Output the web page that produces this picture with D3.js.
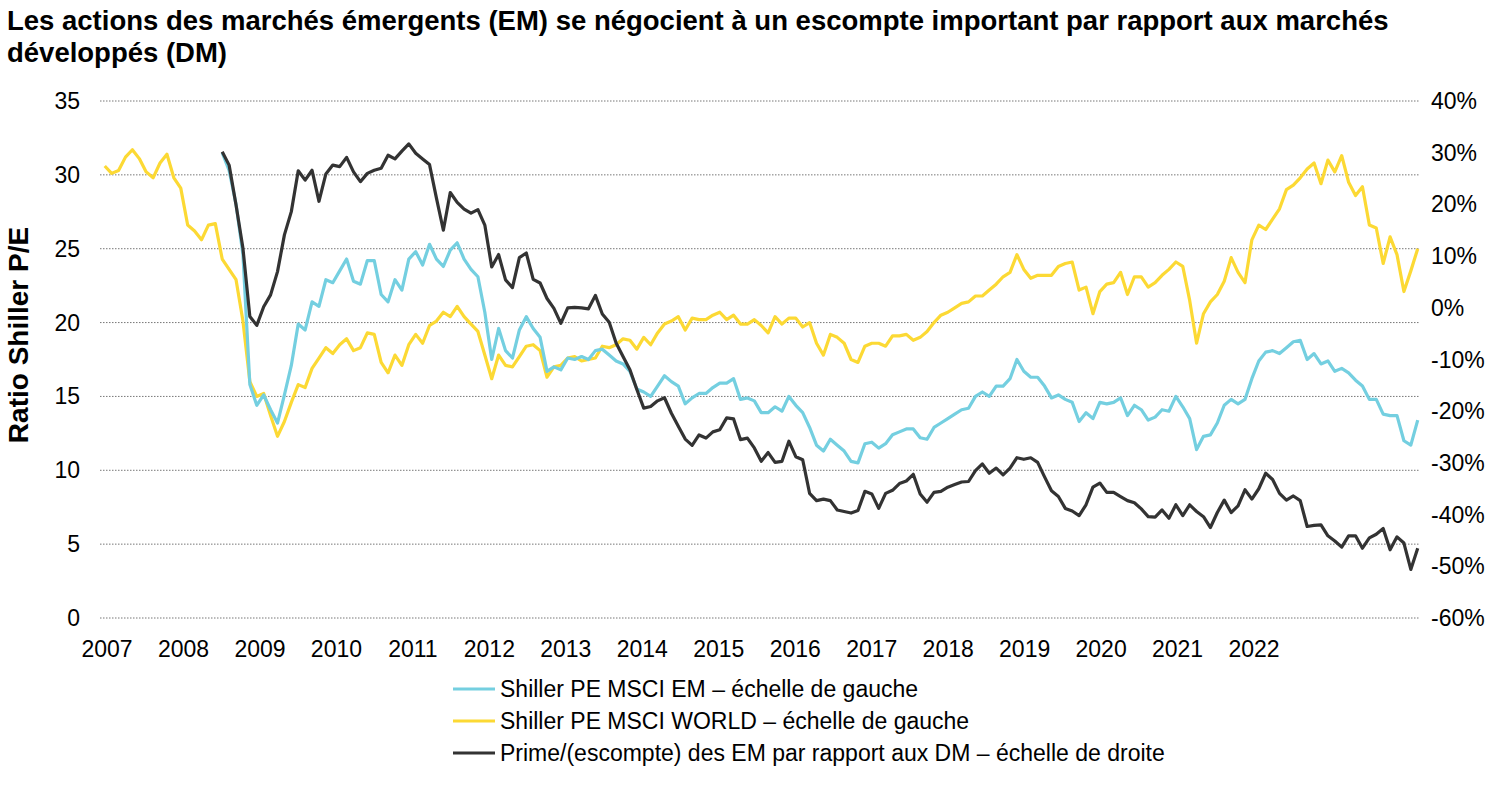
<!DOCTYPE html>
<html><head><meta charset="utf-8">
<script src="https://cdn.jsdelivr.net/npm/d3@7"></script>
<style>body{margin:0;background:#fff;font-family:"Liberation Sans",Arial,sans-serif}</style>
</head><body>
<svg id="chart" width="1500" height="798"></svg>
<script>
// monthly-ish points, shared index; t = t0 + i*step
const t0 = 2006.97, step = 0.09037;
const yearTicks = d3.range(2007, 2023);
const leftTicks = [0,5,10,15,20,25,30,35];
const rightTicks = [-60,-50,-40,-30,-20,-10,0,10,20,30,40];

const worldStart = 0;
const world = [30.6,30.1,30.3,31.2,31.7,31.1,30.2,29.8,30.8,31.4,29.8,29.1,
26.6,26.2,25.6,26.6,26.7,24.3,23.6,22.9,20.1,16.0,15.0,15.2,13.7,12.3,13.3,14.6,15.8,15.6,16.9,17.6,18.3,17.9,18.5,18.9,18.1,18.3,19.3,19.2,17.3,16.6,17.8,17.1,18.5,19.2,18.6,19.8,20.1,20.7,20.4,21.1,20.4,19.9,19.4,17.8,16.2,17.8,17.1,17.0,17.7,18.4,18.5,18.1,16.3,17.0,17.1,17.6,
17.7,17.4,17.5,17.6,18.4,18.3,18.5,18.9,18.8,18.2,19.0,18.5,19.3,19.9,20.1,20.4,19.5,20.3,20.2,20.2,20.5,20.7,20.2,20.5,19.9,19.9,20.2,19.8,19.3,20.4,19.9,20.3,20.3,19.7,20.0,18.6,17.8,19.2,19.0,18.6,17.5,17.3,18.4,18.6,18.6,18.4,19.1,19.1,19.2,18.8,19.0,19.4,20.0,20.5,20.7,21.0,21.3,21.4,21.8,21.8,
22.2,22.6,23.1,23.4,24.6,23.6,23.0,23.2,23.2,23.2,23.8,24.0,24.1,22.2,22.4,20.6,22.1,22.6,22.7,23.4,21.9,23.1,23.1,22.4,22.7,23.2,23.6,24.1,23.8,21.5,18.6,20.6,21.4,21.9,22.8,24.4,23.4,22.7,25.6,26.6,26.3,27.0,27.7,29.0,29.3,29.8,30.4,30.8,29.4,31.0,30.2,31.3,29.5,28.6,29.2,26.6,26.4,24.0,25.8,24.6,22.1,23.5,25.0];

const emStart = 17;
const em = [31.5,30.3,28.0,24.6,15.8,14.4,15.1,14.1,13.2,15.1,17.1,19.9,19.5,21.4,21.1,22.9,22.7,23.5,24.3,22.8,22.6,24.2,24.2,21.9,21.4,22.9,22.2,24.3,24.8,23.9,25.3,24.3,23.8,24.9,25.4,24.3,23.6,23.1,20.7,17.5,19.6,18.1,17.6,19.5,20.4,19.6,19.0,16.7,17.0,16.8,17.6,
17.5,17.7,17.5,18.1,18.2,17.8,17.4,17.2,16.7,15.5,15.3,15.0,15.7,16.4,16.0,15.7,14.5,14.9,15.2,15.2,15.6,15.9,15.9,16.2,14.8,14.9,14.7,13.9,13.9,14.3,14.0,15.0,14.4,13.9,12.9,11.7,11.3,12.1,11.7,11.3,10.6,10.5,11.8,11.9,11.5,11.8,12.4,12.6,12.8,12.8,12.2,12.1,12.9,13.2,13.5,13.8,14.1,14.2,15.0,15.3,
15.0,15.7,15.7,16.2,17.5,16.7,16.3,16.3,15.7,14.9,15.1,14.8,14.6,13.3,13.9,13.5,14.6,14.5,14.6,14.9,13.7,14.4,14.1,13.4,13.6,14.1,14.0,15.0,14.3,13.5,11.4,12.3,12.4,13.2,14.4,14.8,14.5,14.8,16.2,17.4,18.0,18.1,17.9,18.3,18.7,18.8,17.5,17.9,17.2,17.4,16.7,16.9,16.6,16.1,15.7,14.8,14.8,13.8,13.7,13.7,12.0,11.7,13.4];

const premStart = 17;
const premium = [30.2,27.6,19.9,11.5,-1.7,-3.4,0.2,2.5,7.0,14.1,18.6,26.5,24.7,26.6,20.6,25.9,27.6,27.3,29.1,26.3,24.4,26.0,26.6,27.0,29.5,28.8,30.3,31.7,29.9,28.8,27.7,21.2,15.0,22.3,20.4,19.1,18.3,19.0,16.0,7.9,10.3,5.4,3.9,9.7,10.6,5.5,4.8,1.8,-0.1,-3.0,0.0,
0.1,0.0,-0.2,2.4,-1.2,-2.8,-6.8,-9.4,-12.0,-15.8,-19.4,-19.1,-18.0,-17.4,-20.4,-22.9,-25.4,-26.6,-24.6,-25.2,-24.0,-23.6,-21.3,-21.5,-25.5,-25.2,-27.1,-29.7,-28.0,-29.9,-29.7,-25.8,-28.8,-29.4,-35.9,-37.3,-37.0,-37.3,-39.1,-39.4,-39.7,-39.2,-35.5,-36.0,-38.8,-35.9,-35.3,-34.0,-33.5,-32.2,-36.0,-37.6,-35.7,-35.5,-34.7,-34.2,-33.7,-33.6,-31.5,-30.2,
-32.0,-31.0,-32.3,-31.0,-29.0,-29.3,-29.0,-29.9,-32.7,-35.4,-36.5,-38.8,-39.3,-40.2,-38.1,-34.7,-33.9,-35.7,-35.7,-36.5,-37.3,-37.7,-38.9,-40.4,-40.5,-39.1,-40.7,-38.1,-40.2,-38.1,-39.4,-40.4,-42.5,-39.6,-37.2,-39.6,-38.3,-35.2,-37.0,-35.0,-32.0,-33.2,-35.9,-37.2,-36.4,-37.3,-42.3,-42.1,-42.0,-44.1,-45.1,-46.3,-44.1,-44.1,-46.5,-44.5,-43.8,-42.7,-46.8,-44.3,-45.5,-50.6,-46.5];

const legendLabels = ["Shiller PE MSCI EM – échelle de gauche","Shiller PE MSCI WORLD – échelle de gauche","Prime/(escompte) des EM par rapport aux DM – échelle de droite"];
const colors = ["#74cfe0","#fcd934","#333333"];

const svg = d3.select('#chart');
const x = d3.scaleLinear().domain([2006.908, 2024.17]).range([100, 1420]);
const yL = d3.scaleLinear().domain([0, 35]).range([618, 101]);
const yR = d3.scaleLinear().domain([-60, 40]).range([618, 101]);

svg.append('text').attr('x', 7).attr('y', 30).attr('font-size', 27.5).attr('font-weight', 'bold')
  .text('Les actions des marchés émergents (EM) se négocient à un escompte important par rapport aux marchés');
svg.append('text').attr('x', 7).attr('y', 62).attr('font-size', 27.5).attr('font-weight', 'bold')
  .text('développés (DM)');

// gridlines
svg.append('g').selectAll('line').data(leftTicks).join('line')
  .attr('x1', 100).attr('x2', 1420).attr('y1', d => yL(d)).attr('y2', d => yL(d))
  .attr('stroke', '#777').attr('stroke-width', 1).attr('stroke-dasharray', '1.5,1.5');

svg.append('g').selectAll('text').data(leftTicks).join('text')
  .attr('x', 80).attr('y', d => yL(d) + 8).attr('text-anchor', 'end').attr('font-size', 23).text(d => d);
svg.append('g').selectAll('text').data(rightTicks).join('text')
  .attr('x', 1431).attr('y', d => yR(d) + 8).attr('font-size', 23).text(d => d + '%');
svg.append('g').selectAll('text').data(yearTicks).join('text')
  .attr('x', d => x(d)).attr('y', 657).attr('text-anchor', 'middle').attr('font-size', 23).text(d => d);

svg.append('text').attr('transform', 'translate(28,335) rotate(-90)').attr('text-anchor', 'middle')
  .attr('font-size', 28).attr('font-weight', 'bold').text('Ratio Shiller P/E');

const series = [
  {vals: em, start: emStart, y: yL, c: colors[0]},
  {vals: world, start: worldStart, y: yL, c: colors[1]},
  {vals: premium, start: premStart, y: yR, c: colors[2]}
];
// draw order: world, em, premium
[series[1], series[0], series[2]].forEach(s => {
  const line = d3.line().x((d, i) => x(t0 + (s.start + i) * step)).y(d => s.y(d));
  svg.append('path').datum(s.vals).attr('d', line).attr('fill', 'none')
    .attr('stroke', s.c).attr('stroke-width', 3.2).attr('stroke-linejoin', 'round');
});

const leg = svg.append('g').selectAll('g').data(legendLabels).join('g')
  .attr('transform', (d, i) => `translate(453,${689 + i * 32})`);
leg.append('line').attr('x1', 0).attr('x2', 42).attr('stroke', (d, i) => colors[i]).attr('stroke-width', 3.2);
leg.append('text').attr('x', 47).attr('y', 8).attr('font-size', 23).text(d => d);
</script>
</body></html>
